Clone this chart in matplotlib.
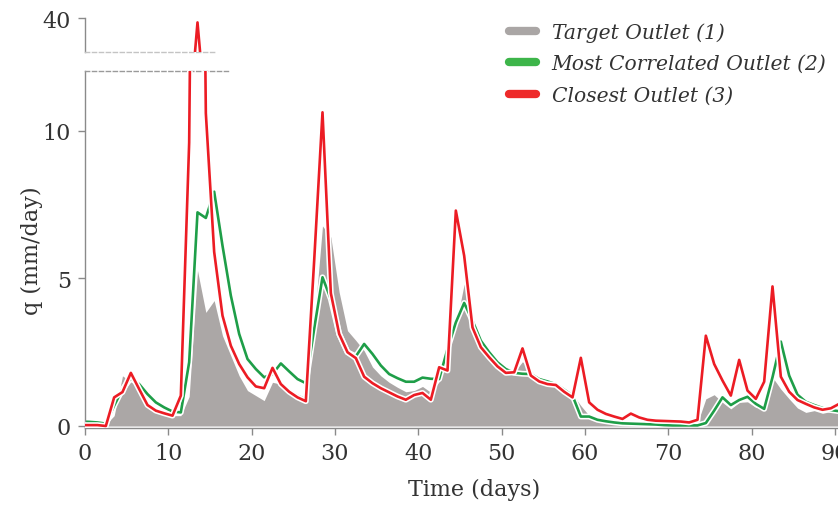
import numpy as np
import matplotlib
matplotlib.use("Agg")
import matplotlib.pyplot as plt
import matplotlib.patheffects as pe
from matplotlib.lines import Line2D

plt.rcParams['font.family'] = ['DejaVu Serif']

# daily discharge, sampled at mid-day
days = np.arange(-0.5, 91, 1.0)

target = [0.02, 0.02, 0.02, 0.05, 0.35, 1.7, 1.5, 1.3, 0.75, 0.55,
          0.45, 0.35, 0.35, 1.0, 5.27, 3.85, 4.25, 3.06, 2.38, 1.7,
          1.2, 1.03, 0.86, 1.48, 1.42, 1.25, 1.08, 0.97, 3.5, 6.78,
          6.4, 4.53, 3.23, 2.9, 2.55, 2.0, 1.7, 1.48, 1.31, 1.16,
          1.2, 1.34, 1.14, 1.5, 2.5, 3.4, 4.81, 3.51, 2.72, 2.33,
          2.05, 1.88, 1.82, 2.18, 1.88, 1.65, 1.56, 1.48, 1.31, 1.08,
          0.69, 0.35, 0.24, 0.18, 0.14, 0.12, 0.1, 0.09, 0.08, 0.07,
          0.06, 0.05, 0.05, 0.05, 0.1, 0.92, 1.06, 0.8, 0.58, 0.8,
          0.82, 0.63, 0.6, 1.65, 1.25, 0.92, 0.61, 0.46, 0.52, 0.43,
          0.49, 0.55]

correlated = [0.15, 0.14, 0.12, 0.08, 0.69, 1.25, 1.62, 1.42, 1.08, 0.8,
              0.63, 0.49, 0.46, 2.16, 7.24, 7.05, 7.94, 6.11, 4.42, 3.12,
              2.27, 1.93, 1.65, 1.76, 2.12, 1.85, 1.59, 1.45, 3.29, 5.04,
              4.3, 3.12, 2.5, 2.36, 2.78, 2.44, 2.05, 1.76, 1.62, 1.5,
              1.5, 1.64, 1.6, 1.59, 2.61, 3.51, 4.17, 3.57, 2.89, 2.5,
              2.16, 1.93, 1.8, 1.77, 1.76, 1.59, 1.51, 1.42, 1.23, 1.03,
              0.32, 0.32, 0.21, 0.16, 0.12, 0.09, 0.08, 0.07, 0.06, 0.05,
              0.03, 0.02, 0.02, 0.02, 0.02, 0.1, 0.52, 0.97, 0.71, 0.88,
              0.99, 0.75, 0.58, 1.65, 2.86, 1.71, 1.06, 0.82, 0.71, 0.61,
              0.54, 0.5]

closest = [0.03, 0.03, 0.03, 0.0, 0.97, 1.15, 1.8, 1.25, 0.71, 0.52,
           0.43, 0.35, 1.03, 9.6, 38.7, 10.6, 5.9, 3.74, 2.72, 2.1,
           1.65, 1.34, 1.28, 1.97, 1.42, 1.16, 0.97, 0.84, 5.6, 10.63,
           4.5, 3.12, 2.5, 2.3, 1.67, 1.45, 1.28, 1.14, 1.0, 0.89,
           1.05, 1.12, 0.89, 1.99, 1.88, 7.3, 5.77, 3.34, 2.67, 2.33,
           2.02, 1.8, 1.82, 2.63, 1.71, 1.51, 1.42, 1.39, 1.16, 0.97,
           2.31, 0.8, 0.55, 0.41, 0.32, 0.24, 0.42, 0.29, 0.21, 0.18,
           0.17, 0.16, 0.15, 0.12, 0.21, 3.06, 2.1, 1.54, 1.03, 2.24,
           1.2, 0.92, 1.5, 4.73, 1.67, 1.16, 0.88, 0.75, 0.63, 0.55,
           0.6, 0.75]

labels = ['Target Outlet (1)', 'Most Correlated Outlet (2)', 'Closest Outlet (3)']

gray = '#aba7a6'
green = '#1e9e48'
red = '#ec1c24'
spine_c = '#8a8a8a'
text_c = '#333333'

W, H = 838, 506
fig = plt.figure(figsize=(W / 100, H / 100), dpi=100)

left = 85 / W
width = (863 - 85) / W
ax = fig.add_axes([left, (H - 429) / H, width, (429 - 72) / H])
ax_top = fig.add_axes([left, (H - 53) / H, width, (53 - 19) / H])

halo = [pe.Stroke(linewidth=4.2, foreground='white'), pe.Normal()]

for a in (ax, ax_top):
    a.fill_between(days, 0, target, color=gray, lw=0, zorder=1)
    a.plot(days, correlated, color=green, lw=1.9, path_effects=halo, zorder=2)
    a.plot(days, closest, color=red, lw=1.9, path_effects=halo, zorder=3)
    a.set_xlim(0, 93.36)
    a.spines['right'].set_visible(False)
    for s in ('left', 'bottom', 'top'):
        a.spines[s].set_color(spine_c)
        a.spines[s].set_linewidth(1.0)
    a.tick_params(colors=spine_c, labelcolor=text_c, labelsize=16,
                  length=5, width=1, pad=5)

ax.set_ylim(-0.068, 12.03)
ax.set_yticks([0, 5, 10])
ax.set_xticks(range(0, 91, 10))
ax.spines['top'].set_linestyle((0, (3, 2)))
ax.spines['top'].set_bounds(0, 17.2)
ax.spines['top'].set_color('#9a9a9a')
ax.set_xlabel('Time (days)', fontsize=16, color=text_c, labelpad=10)
ax.set_ylabel('q (mm/day)', fontsize=16, color=text_c, labelpad=0)

ax_top.set_ylim(30, 40)
ax_top.set_yticks([40])
ax_top.set_xticks([])
ax_top.spines['top'].set_visible(False)
ax_top.spines['bottom'].set_linestyle((0, (3, 2)))
ax_top.spines['bottom'].set_bounds(0, 15.6)
ax_top.spines['bottom'].set_color('#c4c4c4')

handles = [Line2D([], [], color='#aaa6a5', lw=6, solid_capstyle='round'),
           Line2D([], [], color='#3db54a', lw=6, solid_capstyle='round'),
           Line2D([], [], color='#ee2a2a', lw=6, solid_capstyle='round')]
fig.legend(handles, labels, loc='upper left', bbox_to_anchor=(509 / W, (H - 23) / H),
           frameon=False, borderaxespad=0, borderpad=0, handlelength=1.35,
           handletextpad=0.75, labelspacing=0.62, labelcolor=text_c,
           prop={'family': 'DejaVu Serif', 'style': 'italic', 'size': 14.6})

fig.savefig('out.png', dpi=100)
